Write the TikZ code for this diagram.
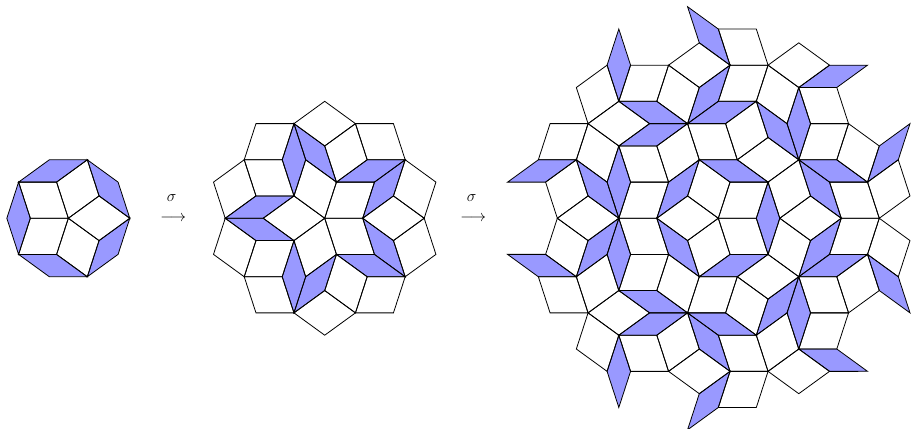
\documentclass[tikz,border=0pt]{standalone}
\tikzset{
  thinfill/.style={fill=blue!40},
  thickfill/.style={fill=white},
  rhedge/.style={draw=black,line width=0.6pt,line join=miter},
}
\def\IPHI{0.61803399}
\newif\iffillpass
\newcount\passid
% draw the rhombus made of triangle (A,B,C) and its mirror across BC (once)
\newcommand\drawrh[7]{%
  \pgfmathtruncatemacro\hx{round(10*((#4)+(#6)))}%
  \pgfmathtruncatemacro\hy{round(10*((#5)+(#7)))}%
  \ifcsname rh@\the\passid @\hx @\hy\endcsname\else
    \expandafter\gdef\csname rh@\the\passid @\hx @\hy\endcsname{}%
    \pgfmathsetmacro\Dx{(#4)+(#6)-(#2)}%
    \pgfmathsetmacro\Dy{(#5)+(#7)-(#3)}%
    \iffillpass
      \ifnum#1=0\relax
        \path[thinfill] (#2,#3)--(#4,#5)--(\Dx,\Dy)--(#6,#7)--cycle;
      \else
        \path[thickfill] (#2,#3)--(#4,#5)--(\Dx,\Dy)--(#6,#7)--cycle;
      \fi
    \else
      \path[rhedge] (#2,#3)--(#4,#5)--(\Dx,\Dy)--(#6,#7)--cycle;
    \fi
  \fi}
% sigma on whole tile: triangle and its mirror, deflated
\newcommand\sig[8]{%
  \begingroup
  \ifnum#8=0\relax
    \drawrh{#1}{#2}{#3}{#4}{#5}{#6}{#7}%
  \else
    \pgfmathsetmacro\Mx{(#4)+(#6)-(#2)}%
    \pgfmathsetmacro\My{(#5)+(#7)-(#3)}%
    \pgfmathtruncatemacro\nd{#8-1}%
    \edef\mynext{\noexpand\defl{#1}{#2}{#3}{#4}{#5}{#6}{#7}{\nd}%
      \noexpand\defl{#1}{\Mx}{\My}{#4}{#5}{#6}{#7}{\nd}}%
    \mynext
  \fi
  \endgroup}
\newcommand\defl[8]{%
  \begingroup
  \ifnum#1=0\relax
    \pgfmathsetmacro\Px{(#2)+((#4)-(#2))*\IPHI}%
    \pgfmathsetmacro\Py{(#3)+((#5)-(#3))*\IPHI}%
    \edef\mynext{\noexpand\sig{0}{#6}{#7}{\Px}{\Py}{#4}{#5}{#8}%
      \noexpand\sig{1}{\Px}{\Py}{#6}{#7}{#2}{#3}{#8}}%
  \else
    \pgfmathsetmacro\Qx{(#4)+((#2)-(#4))*\IPHI}%
    \pgfmathsetmacro\Qy{(#5)+((#3)-(#5))*\IPHI}%
    \pgfmathsetmacro\Rx{(#4)+((#6)-(#4))*\IPHI}%
    \pgfmathsetmacro\Ry{(#5)+((#7)-(#5))*\IPHI}%
    \edef\mynext{\noexpand\sig{1}{\Rx}{\Ry}{#6}{#7}{#2}{#3}{#8}%
      \noexpand\sig{1}{\Qx}{\Qy}{\Rx}{\Ry}{#4}{#5}{#8}%
      \noexpand\sig{0}{\Rx}{\Ry}{\Qx}{\Qy}{#2}{#3}{#8}}%
  \fi
  \mynext
  \endgroup}
% sun decagon with edge #1, substituted #2 times
\newcommand\seed[2]{%
  \global\advance\passid by 1\relax
  \foreach \k in {0,...,4}{%
    \pgfmathsetmacro\bb{36+72*\k}%
    \pgfmathsetmacro\cc{72*\k}%
    \pgfmathsetmacro\Pbx{#1*cos(\bb)}%
    \pgfmathsetmacro\Pby{#1*sin(\bb)}%
    \pgfmathsetmacro\Vcx{1.6180340*#1*cos(\cc)}%
    \pgfmathsetmacro\Vcy{1.6180340*#1*sin(\cc)}%
    \pgfmathsetmacro\Vbx{1.6180340*#1*cos(\bb)}%
    \pgfmathsetmacro\Vby{1.6180340*#1*sin(\bb)}%
    \edef\mynext{\noexpand\sig{1}{\Pbx}{\Pby}{\Vcx}{\Vcy}{0}{0}{#2}%
      \noexpand\sig{0}{\Vcx}{\Vcy}{\Pbx}{\Pby}{\Vbx}{\Vby}{#2}}%
    \mynext
  }}
\newcommand\patch[2]{\fillpasstrue\seed{#1}{#2}\fillpassfalse\seed{#1}{#2}}
\begin{document}
\begin{tikzpicture}[x=1cm,y=1cm]
\useasboundingbox (0,0) rectangle (23.974,11.289);
\begin{scope}[shift={(1.798,5.545)}]
  \patch{1}{0}
\end{scope}
\begin{scope}[shift={(8.545,5.545)}]
  \patch{1.6180340}{1}
\end{scope}
\begin{scope}[shift={(18.903,5.545)}]
  \patch{2.6180340}{2}
\end{scope}
\node (s1) at (4.518,6.066) {\large$\sigma$};
\node (a1) at (4.561,5.545) {\large$\longrightarrow$};
\node (s2) at (12.413,6.066) {\large$\sigma$};
\node (a2) at (12.456,5.545) {\large$\longrightarrow$};
\end{tikzpicture}
\end{document}
